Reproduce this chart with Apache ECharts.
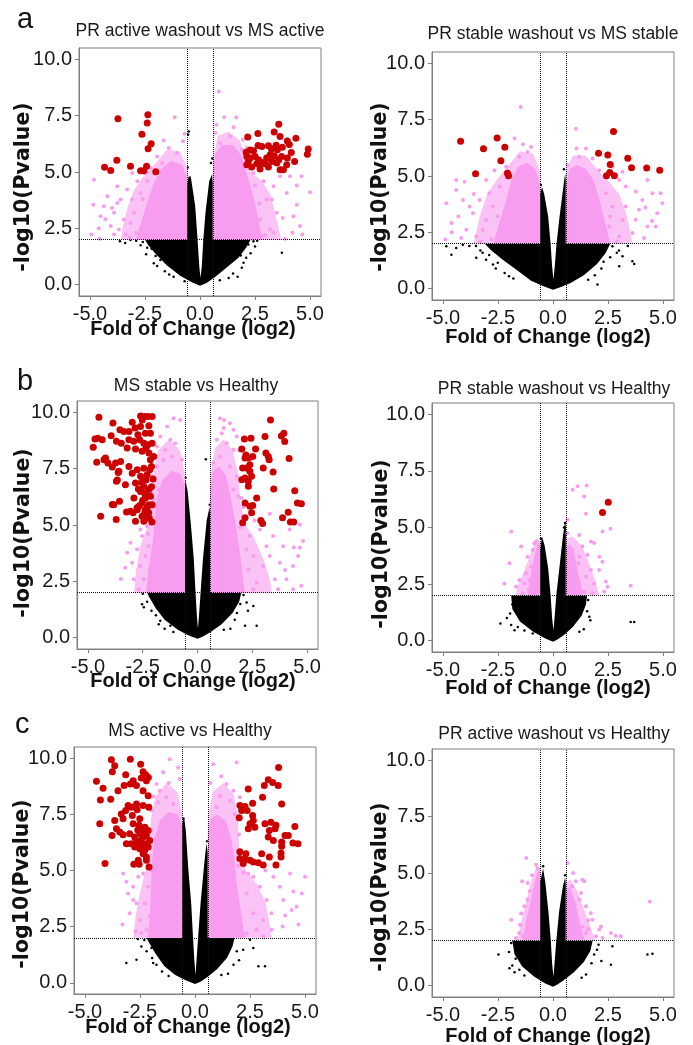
<!DOCTYPE html>
<html><head><meta charset="utf-8">
<script src="https://cdn.jsdelivr.net/npm/echarts@6/dist/echarts.min.js"></script>
<style>html,body{margin:0;padding:0;background:#fff}#c{width:693px;height:1045px}</style>
</head><body><div id="c"></div>
<script>
// ---------- labels ----------
const xTicks = [-5, -2.5, 0, 2.5, 5];
const yTicks = [0, 2.5, 5, 7.5, 10];
const panelTitles = ['PR active washout vs MS active', 'PR stable washout vs MS stable',
  'MS stable vs Healthy', 'PR stable washout vs Healthy',
  'MS active vs Healthy', 'PR active washout vs Healthy'];
const panelLetters = ['a', 'b', 'c'];
const xTitle = 'Fold of Change (log2)';
const yTitle = '-log10(Pvalue)';
const fcCut = 0.585, pCut = 2;

// ---------- panel 1: PR active washout vs MS active ----------
const red1 = [[-3.73,7.36],[-2.37,7.54],[-2.40,7.17],[-2.64,6.67],[-2.22,6.25],[-2.36,6.03],[-3.78,5.52],[-4.34,5.21],[-4.06,5.07],[-3.16,5.25],[-2.70,5.06],[-2.55,5.06],[-2.43,5.25],[-2.01,5.01],
 [3.58,7.12],[2.63,6.71],[3.37,6.77],[3.64,6.58],[4.36,6.50],[3.97,6.38],[2.17,6.55],[2.64,6.18],[2.28,5.98],[2.10,5.88],[2.43,5.94],[2.81,6.13],[3.11,6.16],[3.25,6.02],[3.46,6.19],[3.52,5.99],[3.74,6.10],[4.06,6.22],[4.15,5.86],[4.92,6.02],[4.88,5.79],[2.13,5.69],[2.28,5.62],[2.50,5.69],[2.66,5.54],[2.81,5.42],[3.03,5.62],[3.19,5.76],[3.37,5.72],[3.58,5.54],[3.71,5.69],[3.97,5.62],[4.30,5.47],[2.13,5.32],[2.35,5.22],[2.58,5.37],[2.73,5.13],[2.96,5.37],[3.11,5.22],[3.26,5.47],[3.49,5.40],[3.64,5.10],[3.79,5.10],[3.94,5.32],[2.20,5.47]];
const pink1 = [[-1.15,7.43],[-1.65,6.40],[-0.77,6.36],[-1.42,6.06],[-1.95,5.69],[-1.04,5.84],[-3.08,4.96],[-4.82,4.66],[-4.21,3.92],[-4.85,3.55],[-4.52,3.04],[-3.91,3.19],[-3.61,3.78],[-3.31,4.22],[-3.76,4.37],[-2.85,4.59],[-4.06,2.60],[-4.94,2.23],[-4.56,2.04],[-3.69,2.45],[-3.46,2.89],[-3.0,3.19],[-3.08,3.78],[-2.70,4.07],[-4.37,3.48],[-3.38,2.23],[-3.76,3.63],[-2.55,4.96],[-3.16,2.74],[-3.91,2.23],[-2.25,5.18],[-1.72,5.40],[-2.9,2.3],[-3.2,2.1],[-2.6,3.8],[-2.4,4.6],[-4.3,2.9],[-4.0,3.4],[-4.6,2.5],[-0.7,6.7],
 [1.10,7.43],[1.65,7.43],[1.53,6.99],[0.85,8.57],[0.69,6.73],[1.37,6.58],[1.95,6.43],[2.13,6.06],[0.92,6.28],[4.62,4.81],[5.0,4.10],[4.40,3.55],[3.76,2.96],[4.65,2.23],[3.87,2.04],[2.89,4.59],[3.34,4.37],[3.04,3.78],[3.94,4.07],[3.49,3.19],[2.73,2.89],[3.19,2.45],[2.43,4.96],[4.09,4.81],[3.64,4.81],[3.34,2.30],[2.81,2.15],[4.25,3.04],[4.55,2.60],[3.26,3.78],[2.95,2.2],[2.7,3.6],[2.5,4.4],[1.9,6.0],[4.2,2.3],[4.4,4.4],[0.75,7.1]];
const black1 = [[-2.6,1.9],[-2.9,1.95],[-3.64,1.93],[-3.16,1.98],[-2.40,1.64],[-2.02,1.27],[-1.95,0.83],[-1.6,0.6],[-1.2,0.35],[3.72,1.42],[1.71,0.35],[2.2,1.78],[2.43,1.93],[1.98,0.97],[2.3,1.4],[1.5,0.5],[-0.54,6.65],[-0.51,6.8],[-0.56,5.2],[0.5,5.4],[0.56,5.6],[2.6,1.95],[-2.2,1.6],[-1.8,1.1],[1.85,1.3],[0.9,0.2],[-0.7,0.15],[-2.7,1.75],[-2.45,1.35],[-2.1,0.95],[-1.4,0.45],[2.1,1.2],[1.9,0.75],[1.3,0.3],[2.5,1.7],[-3.4,1.85]];
const blackPoly1 = [[0,-0.05],[-0.35,0.1],[-0.9,0.4],[-1.5,0.85],[-2.0,1.35],[-2.35,1.75],[-2.5,2.0],[-0.585,2.0],[-0.585,4.4],[-0.52,4.8],[-0.42,4.8],[-0.22,3.5],[-0.11,2.0],[-0.03,0.8],[0.02,0.3],[0.08,0.8],[0.15,2.0],[0.25,3.2],[0.42,4.6],[0.55,4.9],[0.585,4.5],[0.585,2.0],[2.3,2.0],[2.1,1.65],[1.75,1.2],[1.2,0.75],[0.7,0.35],[0.3,0.08]];
const pinkCore1L = [[-0.585,2],[-0.585,4.7],[-0.8,5.3],[-1.3,5.5],[-1.8,5.1],[-2.1,4.5],[-2.35,3.8],[-2.6,3.0],[-2.8,2.4],[-2.9,2.0]];
const pinkCore1R = [[0.585,2],[0.585,5.0],[0.7,5.8],[1.0,6.2],[1.5,6.2],[1.9,5.7],[2.1,5.0],[2.35,4.2],[2.55,3.4],[2.7,2.6],[2.85,2.0]];
const pinkHalo1L = [[-0.585,2],[-0.585,5.2],[-0.9,5.9],[-1.5,6.0],[-2.0,5.4],[-2.5,4.9],[-3.0,4.2],[-3.3,3.4],[-3.5,2.6],[-3.6,2.0]];
const pinkHalo1R = [[0.585,2],[0.585,5.5],[0.8,6.6],[1.3,6.8],[1.8,6.4],[2.1,5.6],[2.3,5.0],[2.8,4.6],[3.2,4.0],[3.4,3.2],[3.6,2.4],[3.7,2.0]];

// ---------- panel 2: PR stable washout vs MS stable ----------
const red2 = [[-4.20,6.54],[-3.16,6.21],[-2.54,6.69],[-2.19,6.28],[-2.37,5.68],[-3.52,5.10],[-2.07,5.12],[-2.02,5.01],[2.75,6.97],[2.07,6.01],[2.49,5.93],[2.60,5.51],[2.58,5.15],[2.43,5.01],[2.79,5.01],[3.40,5.79],[3.57,5.37],[4.26,5.35],[4.85,5.25]];
const pink2 = [[-4.85,3.79],[-4.89,2.18],[-4.62,2.91],[-4.40,4.82],[-4.02,4.75],[-4.09,3.94],[-3.64,3.35],[-3.34,3.94],[-3.94,2.62],[-4.17,2.25],[-3.49,2.32],[-3.04,3.06],[-2.89,4.24],[-3.04,4.82],[-2.66,5.26],[-2.43,4.53],[-2.13,5.41],[-1.53,5.85],[-1.15,6.07],[-1.47,8.06],[-1.75,6.66],[-1.37,6.41],[-1.0,6.29],[-2.73,3.65],[-3.79,3.65],[-3.19,2.62],[-4.40,4.38],[-2.51,3.21],[-3.3,2.1],[-2.8,2.2],[-3.6,4.2],[-4.3,3.2],[-4.6,2.5],
 [1.04,7.10],[1.07,6.22],[1.50,6.22],[1.19,5.85],[1.80,5.78],[0.66,5.49],[3.01,4.82],[3.31,4.53],[3.76,4.31],[4.06,3.94],[4.29,4.82],[4.52,4.24],[4.89,4.24],[4.97,3.79],[4.74,3.35],[4.29,2.76],[4.67,2.76],[2.70,3.65],[3.16,3.06],[3.61,2.47],[3.01,2.32],[3.91,3.50],[2.55,2.76],[2.40,4.24],[3.31,3.65],[3.76,3.06],[4.14,2.25],[2.10,5.26],[2.70,5.41],[3.16,5.19],[2.9,2.1],[2.6,3.2],[4.5,3.0],[4.2,3.6]];
const black2 = [[-4.62,1.51],[-4.40,1.81],[-4.85,1.88],[-3.49,1.37],[-2.73,1.07],[-3.04,1.29],[-2.51,1.15],[3.16,1.44],[3.61,1.22],[3.69,1.10],[3.01,1.0],[2.02,0.19],[2.70,1.88],[-3.8,1.9],[-3.3,1.7],[-4.1,1.95],[2.9,1.6],[-2.2,0.7],[-1.8,0.45],[2.3,1.2],[1.9,0.6],[-0.55,4.6],[0.5,5.3],[-3.5,1.9],[3.4,1.9],[-2.9,1.5],[-3.2,1.6],[-2.6,0.9],[-2.0,0.55],[2.6,1.4],[2.2,0.9],[1.6,0.4],[3.0,1.7]];
const blackPoly2 = [[0,-0.05],[-0.4,0.1],[-1.0,0.35],[-1.6,0.8],[-2.3,1.3],[-2.8,1.7],[-3.1,2.0],[-0.585,2.0],[-0.585,4.2],[-0.5,4.5],[-0.4,4.2],[-0.22,3.2],[-0.11,2.0],[-0.04,1.0],[0.02,0.4],[0.08,1.0],[0.16,2.0],[0.3,3.2],[0.48,4.6],[0.55,5.1],[0.585,4.8],[0.585,2.0],[2.6,2.0],[2.4,1.6],[2.0,1.1],[1.4,0.6],[0.8,0.25],[0.3,0.05]];
const pinkCore2L = [[-0.585,2],[-0.585,4.6],[-0.8,5.3],[-1.2,5.6],[-1.6,5.4],[-1.9,4.8],[-2.1,4.0],[-2.35,3.2],[-2.6,2.4],[-2.7,2.0]];
const pinkCore2R = [[0.585,2],[0.585,4.5],[0.75,5.3],[1.1,5.5],[1.5,5.3],[1.85,4.8],[2.1,4.0],[2.3,3.2],[2.5,2.4],[2.6,2.0]];
const pinkHalo2L = [[-0.585,2],[-0.585,5.2],[-0.9,6.0],[-1.5,6.1],[-2.0,5.5],[-2.5,4.9],[-3.0,4.2],[-3.3,3.3],[-3.5,2.5],[-3.6,2.0]];
const pinkHalo2R = [[0.585,2],[0.585,5.2],[0.9,5.9],[1.5,5.9],[2.0,5.3],[2.5,4.8],[3.0,4.2],[3.3,3.4],[3.5,2.6],[3.6,2.0]];

// ---------- panel 3: MS stable vs Healthy ----------
const red3 = [[-4.5,9.78],[-2.6,9.84],[-2.42,9.81],[-2.27,9.81],[-2.07,9.81],[-2.52,9.66],[-3.86,9.52],[-2.98,9.56],[-3.54,9.22],[-3.36,9.15],[-3.13,9.15],[-2.6,9.37],[-2.22,9.40],[-2.15,9.07],[-2.38,9.07],[-2.72,9.0],[-4.68,8.81],[-4.35,8.78],[-4.76,8.45],[-3.94,8.96],[-3.70,8.71],[-3.48,8.63],[-3.13,8.78],[-2.91,8.71],[-2.64,8.78],[-2.45,8.63],[-2.27,8.56],[-2.07,8.63],[-3.21,8.41],[-2.83,8.37],[-2.53,8.27],[-2.22,8.19],[-2.0,8.04],[-2.15,7.89],[-4.6,7.78],[-4.2,7.97],[-3.51,7.82],[-3.74,7.75],[-3.13,7.60],[-2.75,7.45],[-2.45,7.52],[-2.18,7.45],[-2.98,7.30],[-2.60,7.16],[-2.30,7.23],[-2.03,7.04],[-3.59,7.38],[-3.66,7.0],[-3.29,6.78],[-2.83,6.86],[-2.45,6.71],[-2.22,6.57],[-2.60,6.49],[-2.15,6.27],[-2.38,6.20],[-2.53,5.98],[-2.22,5.90],[-3.82,5.90],[-2.07,5.90],[-2.75,5.68],[-2.38,5.68],[-3.06,5.61],[-2.30,5.46],
 [-4.42,5.39],[-3.71,5.24],[-3.24,5.58],[-2.94,5.54],[-2.83,5.17],[-2.53,5.39],[-2.45,5.17],[-2.23,5.54],[-2.08,5.13],[-2.76,5.76],[-2.30,5.76],[-3.89,5.91],[-3.56,6.05],[-3.70,6.94],[-3.62,7.33],[-3.89,7.57],[-4.55,8.85],[-4.27,7.89],[-4.09,7.75],
 [-2.4,6.4],[-2.55,6.9],[-2.35,7.0],[-2.5,6.1],[-2.1,6.7],[-2.65,5.85],[-2.2,5.3],[-2.4,5.55],[-2.9,6.2],[-2.7,6.6],[-2.1,7.6],[-2.85,9.3],[-2.35,8.4],
 [3.33,9.66],[3.83,8.95],[3.94,9.07],[3.98,8.70],[3.08,8.92],[2.44,8.85],[2.14,8.81],[2.65,8.37],[2.02,8.37],[2.21,8.11],[2.32,7.97],[2.17,7.97],[2.52,8.04],[3.12,8.19],[3.23,8.04],[3.27,7.89],[4.18,7.95],[2.39,7.67],[2.06,7.53],[2.24,7.53],[2.39,7.38],[3.0,7.53],[3.45,7.35],[2.47,7.16],[2.17,7.08],[2.02,7.01],[2.32,6.94],[2.70,6.20],[3.48,6.60],[4.44,6.52],[2.17,5.98],[2.39,5.83],[2.52,5.86],[4.56,5.98],[4.74,5.94],[4.14,5.57],[3.88,5.32],[4.24,5.13],[4.39,5.13],[2.89,5.20],[2.97,5.07],[2.17,5.32],[2.06,5.10],[2.47,5.54],[2.32,6.72]];
const pink3 = [[-1.09,9.73],[-0.79,9.66],[-1.39,9.37],[-1.70,8.92],[-1.24,8.78],[-1.85,8.48],[-1.47,8.34],[-1.02,8.63],[-2.0,8.04],[-1.55,7.89],[-1.17,8.04],[-0.71,7.89],[-1.85,7.60],[-2.08,7.16],[-1.77,6.57],[-2.0,6.13],
 [-3.21,3.77],[-2.91,2.59],[-2.76,3.92],[-2.53,4.51],[-2.30,4.95],[-3.06,4.21],[-2.61,3.18],[-2.98,3.33],[-2.45,2.59],[-2.23,4.06],[-2.68,2.15],[-2.15,2.15],[-2.61,4.80],[-2.38,3.62],[-2.18,3.03],[-2.2,5.5],[-2.1,6.5],[-1.95,5.8],[-2.25,4.6],[-3.5,2.6],[-3.3,3.1],
 [1.03,9.73],[1.21,9.66],[1.48,9.51],[1.64,9.22],[1.11,9.07],[0.88,8.78],[1.33,8.63],[1.79,8.92],[1.64,8.34],[1.03,8.04],[1.48,7.60],[0.73,7.75],[1.79,7.16],[1.64,6.57],[1.86,6.27],[1.9,8.3],[1.2,9.3],
 [4.82,4.29],[4.67,3.99],[4.36,3.18],[4.74,2.30],[4.06,2.59],[3.76,3.33],[3.45,4.51],[3.15,4.06],[3.0,3.18],[2.70,2.44],[2.55,3.62],[2.85,4.80],[4.21,4.80],[3.91,4.06],[3.53,2.59],[2.39,4.51],[2.32,3.03],[2.24,3.92],[4.36,2.15],[3.30,3.62],[2.55,2.15],[4.59,3.62],[3.68,2.15],[4.67,5.02],[2.1,5.8],[2.0,6.2],[1.95,4.9],[2.6,5.2],[3.3,5.5],[4.0,3.0],[4.4,4.0]];
const black3 = [[-2.53,1.49],[-2.45,1.35],[-2.08,1.78],[-1.77,0.60],[-1.24,0.53],[2.17,0.53],[2.70,0.53],[2.55,1.41],[2.24,1.56],[-2.5,1.95],[2.1,1.9],[-1.9,1.0],[1.8,1.1],[0.38,7.92],[-0.55,7.1],[0.56,5.9],[-1.5,0.4],[1.5,0.4],[2.3,1.2],[-2.3,1.6],[-2.1,1.2],[-1.7,0.75],[1.95,1.5],[1.7,0.8],[1.2,0.35],[-1.1,0.25]];
const blackPoly3 = [[0,-0.05],[-0.4,0.1],[-0.9,0.35],[-1.5,0.8],[-1.9,1.3],[-2.2,1.8],[-2.3,2.0],[-0.585,2.0],[-0.585,6.5],[-0.55,7.0],[-0.45,6.5],[-0.3,5.0],[-0.17,3.5],[-0.09,2.0],[-0.03,1.0],[0.02,0.4],[0.07,1.0],[0.14,2.0],[0.25,3.5],[0.42,5.2],[0.55,5.8],[0.585,5.3],[0.585,2.0],[2.0,2.0],[1.9,1.6],[1.6,1.1],[1.1,0.6],[0.6,0.25],[0.25,0.05]];
const pinkCore3L = [[-0.585,2],[-0.585,6.8],[-0.8,7.3],[-1.2,7.4],[-1.6,7.0],[-1.85,6.2],[-1.95,5.2],[-2.05,4.2],[-2.2,3.2],[-2.35,2.0]];
const pinkCore3R = [[0.585,2],[0.585,6.5],[0.7,7.4],[1.0,7.6],[1.3,7.2],[1.5,6.3],[1.7,5.3],[1.85,4.3],[2.0,3.3],[2.15,2.0]];
const pinkHalo3L = [[-0.585,2],[-0.585,7.3],[-0.8,8.3],[-1.3,8.8],[-1.8,8.3],[-2.0,7.3],[-2.1,6.0],[-2.3,4.9],[-2.6,4.1],[-2.8,3.0],[-2.9,2.0]];
const pinkHalo3R = [[0.585,2],[0.585,7.2],[0.8,8.4],[1.2,8.8],[1.6,8.3],[1.85,7.3],[1.95,6.0],[2.2,5.0],[2.6,4.4],[3.0,3.5],[3.3,2.6],[3.4,2.0]];

// ---------- panel 4: PR stable washout vs Healthy ----------
const red4 = [[2.51,6.12],[2.25,5.66]];
const pink4 = [[-1.90,4.82],[-1.98,3.42],[-1.45,4.16],[-2.21,2.53],[-1.68,2.38],[-1.53,2.68],[-1.22,2.98],[-1.15,3.71],[-1.30,2.53],[-1.07,2.68],[-0.99,3.27],[-0.92,4.01],[-0.85,4.30],[-0.77,4.38],[-1.10,2.24],[-1.37,2.09],[-0.92,2.24],
 [0.89,6.67],[1.12,6.82],[1.53,6.86],[1.42,6.37],[1.50,5.61],[2.25,4.82],[2.61,4.94],[0.66,5.34],[0.66,4.75],[1.19,4.67],[1.34,4.16],[1.72,4.38],[1.87,4.31],[0.89,4.01],[1.19,3.71],[1.57,3.79],[2.10,3.71],[2.25,3.49],[1.72,3.12],[1.04,3.05],[1.50,2.83],[1.19,2.53],[1.87,2.53],[2.40,2.61],[2.48,2.38],[2.33,2.16],[3.53,2.43],[1.80,2.09],[1.42,2.16],[0.89,2.24],[2.10,3.12],[1.16,3.42],[0.86,2.68]];
const black4 = [[-2.39,0.76],[-1.90,0.69],[-1.65,1.50],[1.65,1.06],[1.7,0.9],[3.53,0.83],[3.69,0.83],[-1.75,0.46],[-0.92,0.32],[-1.95,1.2],[1.6,1.8],[-1.8,1.9],[-2.1,1.0],[1.4,0.5],[-0.55,4.5],[0.55,5.2],[0.5,5.0],[-1.6,0.6],[-1.3,0.45],[1.55,1.3],[1.2,0.4],[-1.85,1.6]];
const blackPoly4 = [[0,-0.05],[-0.35,0.1],[-0.9,0.4],[-1.5,0.85],[-1.85,1.4],[-1.9,2.0],[-0.585,2.0],[-0.585,4.0],[-0.5,4.6],[-0.38,4.2],[-0.22,3.2],[-0.11,2.0],[-0.04,1.0],[0.02,0.45],[0.07,1.0],[0.15,2.0],[0.3,3.3],[0.45,4.6],[0.55,5.3],[0.585,5.0],[0.585,2.0],[1.55,2.0],[1.5,1.6],[1.3,1.1],[0.9,0.6],[0.5,0.25],[0.2,0.05]];
const pinkCore4L = [[-0.585,2],[-0.585,4.3],[-0.7,4.3],[-0.85,3.7],[-1.0,3.0],[-1.1,2.4],[-1.15,2.0]];
const pinkCore4R = [[0.585,2],[0.585,4.0],[0.75,4.3],[0.95,3.9],[1.1,3.2],[1.25,2.5],[1.4,2.0]];
const pinkHalo4L = [[-0.585,2],[-0.585,4.4],[-0.75,4.5],[-1.0,3.9],[-1.3,3.1],[-1.6,2.4],[-1.7,2.0]];
const pinkHalo4R = [[0.585,2],[0.585,4.5],[0.9,4.6],[1.3,4.2],[1.6,3.5],[1.9,2.7],[2.1,2.0]];

// ---------- panel 5: MS active vs Healthy ----------
const red5 = [[-4.48,8.97],[-4.30,8.14],[-4.18,8.66],[-4.33,7.08],[-4.09,5.31],[-3.80,9.93],[-3.65,9.66],[-3.76,9.40],[-3.83,8.17],[-3.65,7.23],[-3.77,6.56],[-3.50,8.55],[-3.22,8.78],[-3.15,9.26],[-2.94,9.96],[-2.94,8.85],[-2.81,9.0],[-2.66,8.78],[-2.47,9.73],[-2.36,9.40],[-2.24,9.26],[-2.21,9.0],[-2.12,9.14],[-2.44,9.12],[-2.36,8.55],[-2.13,8.33],[-3.04,7.89],[-3.15,7.67],[-2.89,7.82],[-2.66,7.96],[-2.63,7.70],[-2.36,7.89],[-2.10,7.82],[-3.35,7.52],[-3.57,6.86],[-3.42,6.71],[-3.27,7.30],[-2.85,7.45],[-2.51,7.30],[-2.81,7.08],[-2.54,7.01],[-2.44,6.86],[-2.28,6.93],[-2.13,6.78],[-2.97,6.64],[-2.74,6.49],[-2.51,6.64],[-2.36,6.49],[-2.21,6.56],[-2.06,6.34],[-3.12,6.19],[-2.89,6.19],[-2.66,6.27],[-2.44,6.12],[-2.21,6.19],[-2.74,6.05],[-2.51,5.97],[-2.28,5.90],[-2.13,6.05],[-2.36,5.75],[-2.21,5.60],[-2.58,5.46],[-2.21,5.46],[-2.78,5.28],[-2.54,5.28],[-2.09,5.16],[-3.27,6.59],[-2.45,6.35],[-2.3,6.7],[-2.6,6.8],
 [3.80,9.59],[3.33,9.04],[3.53,8.92],[3.78,8.78],[3.15,8.78],[2.42,8.63],[3.07,8.26],[2.62,7.99],[3.94,7.96],[2.04,7.89],[2.27,7.85],[2.37,7.67],[2.12,7.67],[2.62,7.45],[2.01,7.35],[2.65,7.23],[2.50,7.08],[3.18,7.08],[3.45,7.15],[3.68,7.01],[4.54,6.96],[2.42,6.86],[2.72,6.93],[3.38,6.78],[3.64,6.86],[3.33,6.49],[3.56,6.34],[4.09,6.56],[4.24,6.56],[3.94,6.27],[3.94,6.08],[4.45,6.22],[4.68,6.19],[2.04,5.83],[2.31,5.75],[3.03,5.75],[3.91,5.78],[3.91,5.60],[2.04,5.53],[2.27,5.49],[2.50,5.46],[2.65,5.38],[2.88,5.35],[3.38,5.60],[3.68,5.24],[3.10,5.24],[2.19,5.31]];
const pink5 = [[-1.15,9.96],[-0.77,9.59],[-1.45,9.37],[-1.75,8.85],[-1.30,8.26],[-1.68,8.04],[-0.99,7.96],[-0.69,9.07],[-1.98,7.67],[-1.60,8.55],[-1.9,8.3],[-1.2,8.9],
 [-3.27,4.87],[-3.04,3.98],[-2.81,4.28],[-2.58,4.72],[-2.97,3.10],[-2.66,3.54],[-2.36,4.87],[-2.13,4.28],[-2.51,2.80],[-2.21,2.36],[-2.44,2.21],[-1.90,2.21],[-3.12,4.50],[-2.81,3.69],[-2.28,3.54],[-2.06,2.95],[-2.0,5.0],[-2.1,6.0],[-2.0,6.8],[-3.3,2.6],[-2.7,2.3],
 [0.83,9.73],[1.89,9.81],[1.43,8.85],[1.74,8.55],[1.13,8.33],[1.59,8.11],[2.04,8.26],[1.81,7.52],[0.98,7.82],[1.2,9.2],[0.7,8.9],
 [2.95,4.28],[3.26,3.69],[4.01,3.69],[4.47,4.06],[5.0,4.72],[4.85,3.98],[4.39,3.24],[3.98,2.51],[3.48,2.36],[3.10,2.06],[2.80,2.36],[2.65,3.10],[2.34,3.98],[3.56,4.72],[3.86,4.28],[4.32,4.87],[3.48,3.10],[4.62,3.39],[2.34,2.21],[3.10,2.80],[2.65,4.72],[2.42,4.87],[2.0,6.6],[1.95,5.2],[2.2,4.9],[3.2,5.0],[4.1,3.0],[4.7,2.6]];
const black5 = [[-3.12,0.88],[-2.66,1.03],[-2.44,1.62],[-1.98,1.55],[-1.90,0.88],[-1.75,0.8],[2.65,1.55],[2.88,0.74],[3.18,0.74],[2.19,1.47],[2.50,1.92],[-2.3,1.9],[-1.5,0.5],[1.5,0.4],[2.0,1.0],[-0.53,7.3],[0.55,6.3],[-2.6,1.95],[-2.2,1.4],[-1.95,1.1],[1.9,1.4],[1.75,0.8],[1.2,0.35],[-1.2,0.3]];
const blackPoly5 = [[0,-0.05],[-0.4,0.1],[-0.9,0.35],[-1.4,0.75],[-1.8,1.3],[-2.1,1.8],[-2.2,2.0],[-0.585,2.0],[-0.585,7.0],[-0.5,7.4],[-0.42,6.8],[-0.3,5.0],[-0.17,3.5],[-0.09,2.0],[-0.03,1.0],[0.02,0.35],[0.07,1.0],[0.14,2.0],[0.25,3.5],[0.42,5.3],[0.52,6.2],[0.585,5.8],[0.585,2.0],[1.8,2.0],[1.7,1.6],[1.45,1.1],[1.0,0.6],[0.55,0.25],[0.25,0.05]];
const pinkCore5L = [[-0.585,2],[-0.585,7.0],[-0.8,7.5],[-1.2,7.6],[-1.6,7.2],[-1.85,6.4],[-1.95,5.4],[-2.0,4.2],[-2.05,3.0],[-2.15,2.0]];
const pinkCore5R = [[0.585,2],[0.585,6.6],[0.7,7.3],[1.0,7.5],[1.4,7.2],[1.65,6.4],[1.8,5.4],[1.9,4.4],[2.05,3.4],[2.2,2.4],[2.3,2.0]];
const pinkHalo5L = [[-0.585,2],[-0.585,7.5],[-0.8,8.5],[-1.3,8.9],[-1.8,8.3],[-2.0,7.3],[-2.05,6.0],[-2.25,5.0],[-2.5,4.0],[-2.7,3.0],[-2.8,2.0]];
const pinkHalo5R = [[0.585,2],[0.585,7.3],[0.8,8.5],[1.3,8.9],[1.75,8.4],[1.95,7.4],[2.0,6.0],[2.3,5.0],[2.8,4.4],[3.2,3.6],[3.4,2.6],[3.5,2.0]];

// ---------- panel 6: PR active washout vs Healthy ----------
const red6 = [];
const pink6 = [[-1.22,5.67],[-0.77,5.37],[-0.7,5.2],[-1.40,4.63],[-1.15,4.56],[-1.90,2.93],[-1.53,2.34],[-1.68,2.12],[-1.30,3.52],[-1.15,3.82],[-1.22,2.49],[-1.37,2.19],[-1.05,4.2],[-0.95,4.9],[-1.5,2.7],[-1.45,3.2],
 [0.66,5.44],[0.92,5.0],[1.34,4.70],[1.42,4.63],[1.27,4.11],[1.19,3.82],[1.50,3.52],[1.72,3.22],[1.80,2.93],[2.10,2.49],[2.18,2.63],[2.63,2.34],[2.85,2.22],[3.08,2.19],[2.25,2.12],[4.40,3.74],[1.50,2.34],[1.04,4.63],[0.86,4.41],[1.34,2.63],[1.6,2.9],[1.95,2.2],[1.0,3.6],[1.6,2.5]];
const black6 = [[-2.48,1.38],[-1.98,0.78],[-1.85,0.9],[-1.53,0.71],[2.07,1.82],[2.70,1.75],[2.63,0.93],[4.29,1.38],[4.52,1.42],[1.87,1.38],[2.0,1.6],[-1.9,1.9],[-1.7,1.2],[1.5,0.5],[-0.45,5.3],[0.55,4.9],[2.2,1.1],[-1.75,0.6],[-1.3,0.45],[1.75,1.0],[1.3,0.35],[-2.0,1.5]];
const blackPoly6 = [[0,-0.05],[-0.35,0.1],[-0.85,0.4],[-1.4,0.85],[-1.75,1.4],[-1.85,2.0],[-0.585,2.0],[-0.585,4.6],[-0.45,5.2],[-0.35,4.6],[-0.2,3.2],[-0.1,2.0],[-0.04,1.0],[0.02,0.4],[0.07,1.0],[0.15,2.0],[0.28,3.3],[0.45,4.4],[0.55,4.8],[0.585,4.5],[0.585,2.0],[1.8,2.0],[1.7,1.55],[1.4,1.05],[0.95,0.6],[0.5,0.25],[0.2,0.05]];
const pinkCore6L = [[-0.585,2],[-0.585,5.0],[-0.7,5.1],[-0.85,4.5],[-1.0,3.8],[-1.2,3.0],[-1.3,2.4],[-1.4,2.0]];
const pinkCore6R = [[0.585,2],[0.585,4.2],[0.75,4.4],[0.95,3.9],[1.15,3.1],[1.3,2.5],[1.45,2.0]];
const pinkHalo6L = [[-0.585,2],[-0.585,5.2],[-0.75,5.3],[-1.0,4.6],[-1.25,3.6],[-1.5,2.6],[-1.6,2.0]];
const pinkHalo6R = [[0.585,2],[0.585,4.6],[0.8,4.7],[1.1,4.2],[1.4,3.4],[1.7,2.6],[1.9,2.0]];

// ---------- build ----------
const panels = [
  {red: red1, pink: pink1, black: black1, bpoly: blackPoly1, cores: [pinkCore1L, pinkCore1R], halos: [pinkHalo1L, pinkHalo1R]},
  {red: red2, pink: pink2, black: black2, bpoly: blackPoly2, cores: [pinkCore2L, pinkCore2R], halos: [pinkHalo2L, pinkHalo2R]},
  {red: red3, pink: pink3, black: black3, bpoly: blackPoly3, cores: [pinkCore3L, pinkCore3R], halos: [pinkHalo3L, pinkHalo3R]},
  {red: red4, pink: pink4, black: black4, bpoly: blackPoly4, cores: [pinkCore4L, pinkCore4R], halos: [pinkHalo4L, pinkHalo4R]},
  {red: red5, pink: pink5, black: black5, bpoly: blackPoly5, cores: [pinkCore5L, pinkCore5R], halos: [pinkHalo5L, pinkHalo5R]},
  {red: red6, pink: pink6, black: black6, bpoly: blackPoly6, cores: [pinkCore6L, pinkCore6R], halos: [pinkHalo6L, pinkHalo6R]}
];
const gridBoxes = [
  {left: 79, top: 48, width: 242, height: 248},
  {left: 432, top: 52, width: 242, height: 248},
  {left: 77, top: 401, width: 241, height: 248},
  {left: 432, top: 403, width: 242, height: 249},
  {left: 74, top: 747, width: 242, height: 247},
  {left: 432, top: 749, width: 242, height: 248}
];
const titlePos = [[200,31],[553,34],[196,386],[554,389],[190,731],[554,734]];
const xTitlePos = [[193,329],[548,337],[193,681],[548,688],[188,1027],[548,1036]];
const yTitlePos = [[24,187],[381,187],[24,533],[382,544],[23,884],[381,887]];
const letterPos = [[17,20],[17,382],[15,725]];

const RED = '#CD0000', PINK = '#F89CF0', PINK_HALO = '#FAC2F5', FONT = '"Liberation Sans", Arial, sans-serif';
const grids = [], xAxes = [], yAxes = [], series = [], graphics = [];

function polySeries(i, poly, color, z) {
  return {type: 'custom', xAxisIndex: i, yAxisIndex: i, silent: true, z: z, data: [[0, 0]],
    renderItem: function (params, api) {
      const pts = poly.map(function (p) { return api.coord(p); });
      return {type: 'polygon', shape: {points: pts}, style: {fill: color}};
    }};
}
function dotSeries(i, data, color, size, z, extra) {
  return Object.assign({type: 'scatter', xAxisIndex: i, yAxisIndex: i, silent: true, z: z, symbolSize: size,
    itemStyle: {color: color, opacity: 1}, emphasis: {disabled: true}, data: data}, extra || {});
}

panels.forEach(function (p, i) {
  grids.push(Object.assign({show: true, borderColor: '#808080', borderWidth: 1, backgroundColor: 'transparent'}, gridBoxes[i]));
  const lab = {formatter: function (v) { return Number(v).toFixed(1); }, fontSize: 20, color: '#1a1a1a', fontFamily: FONT};
  xAxes.push({type: 'value', gridIndex: i, min: -5.5, max: 5.5,
    axisLine: {show: true, onZero: false, lineStyle: {color: '#808080'}},
    splitLine: {show: false},
    axisTick: {show: true, length: 4, customValues: xTicks, lineStyle: {color: '#808080'}},
    axisLabel: Object.assign({customValues: xTicks, margin: 8}, lab)});
  yAxes.push({type: 'value', gridIndex: i, min: -0.5, max: 10.5,
    axisLine: {show: true, onZero: false, lineStyle: {color: '#808080'}},
    splitLine: {show: false},
    axisTick: {show: true, length: 4, customValues: yTicks, lineStyle: {color: '#808080'}},
    axisLabel: Object.assign({customValues: yTicks, margin: 7}, lab)});
  series.push(polySeries(i, p.bpoly, '#000', 1));
  series.push(dotSeries(i, p.black, '#000', 2.5, 2));
  p.halos.forEach(function (pp) { series.push(polySeries(i, pp, PINK_HALO, 3)); });
  p.cores.forEach(function (pp) { series.push(polySeries(i, pp, PINK, 3)); });
  series.push(dotSeries(i, p.pink, PINK, 4, 4, {
    markLine: {silent: true, symbol: ['none', 'none'], label: {show: false}, animation: false,
      lineStyle: {type: 'dotted', color: '#111', width: 1},
      data: [{xAxis: -fcCut}, {xAxis: fcCut}, {yAxis: pCut}]}}));
  series.push(dotSeries(i, p.red, RED, 7, 5));

  graphics.push({type: 'text', x: titlePos[i][0], y: titlePos[i][1],
    style: {text: panelTitles[i], font: '17.5px ' + FONT, fill: '#1a1a1a',
      textAlign: 'center', textVerticalAlign: 'middle', align: 'center', verticalAlign: 'middle'}});
  graphics.push({type: 'text', x: xTitlePos[i][0], y: xTitlePos[i][1],
    style: {text: xTitle, font: 'bold 20px ' + FONT, fill: '#111',
      textAlign: 'center', textVerticalAlign: 'middle', align: 'center', verticalAlign: 'middle'}});
  graphics.push({type: 'text', x: yTitlePos[i][0], y: yTitlePos[i][1], rotation: Math.PI / 2,
    style: {text: yTitle, font: 'bold 20.5px "DejaVu Sans", sans-serif', fill: '#111',
      textAlign: 'center', textVerticalAlign: 'middle', align: 'center', verticalAlign: 'middle'}});
});
panelLetters.forEach(function (l, k) {
  graphics.push({type: 'text', x: letterPos[k][0], y: letterPos[k][1],
    style: {text: l, font: '29px ' + FONT, fill: '#111',
      textAlign: 'left', textVerticalAlign: 'middle', align: 'left', verticalAlign: 'middle'}});
});

const chart = echarts.init(document.getElementById('c'), null, {renderer: 'canvas'});
chart.setOption({animation: false, backgroundColor: '#fff', grid: grids, xAxis: xAxes, yAxis: yAxes,
  series: series, graphic: {elements: graphics}});
</script></body></html>
